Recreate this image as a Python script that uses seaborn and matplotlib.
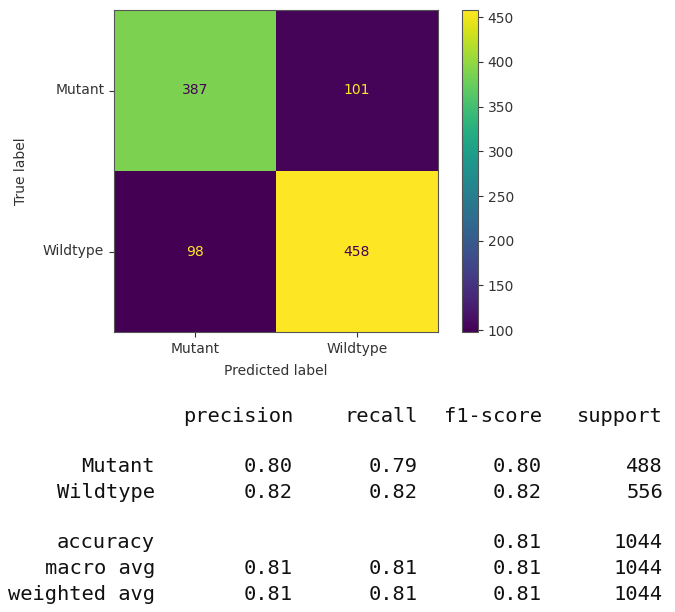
import matplotlib
matplotlib.use("Agg")
import matplotlib.pyplot as plt
import pandas as pd
import seaborn as sns

# Confusion matrix counts (rows: true label, columns: predicted label)
class_names = ["Mutant", "Wildtype"]
confusion = [[387, 101],
             [98, 458]]

# Classification report
report_rows = ["Mutant", "Wildtype", "accuracy", "macro avg", "weighted avg"]
report_cols = ["precision", "recall", "f1-score", "support"]
precision = [0.80, 0.82, None, 0.81, 0.81]
recall = [0.79, 0.82, None, 0.81, 0.81]
f1_score = [0.80, 0.82, 0.81, 0.81, 0.81]
support = [488, 556, 1044, 1044, 1044]

W, H = 675, 612
fig = plt.figure(figsize=(W / 100, H / 100), dpi=100)


def box(x0, y0, x1, y1):
    return [x0 / W, 1 - y1 / H, (x1 - x0) / W, (y1 - y0) / H]


ax = fig.add_axes(box(114, 10, 438, 332))
cax = fig.add_axes(box(462, 10, 478, 332))

cm = pd.DataFrame(confusion, index=class_names, columns=class_names)
vmin, vmax = cm.values.min(), cm.values.max()
sns.heatmap(cm, ax=ax, cbar_ax=cax, cmap="viridis", vmin=vmin, vmax=vmax,
            annot=True, fmt="d", annot_kws={"fontsize": 10})

# Text colour flips between the ends of the colormap around the midpoint
cmap = plt.get_cmap("viridis")
thresh = (vmin + vmax) / 2
for t in ax.texts:
    v = int(t.get_text())
    t.set_color(cmap(1.0) if v < thresh else cmap(0.0))

for s in ax.spines.values():
    s.set_visible(True)
    s.set_linewidth(0.8)
    s.set_color("#555555")

cbar = ax.collections[0].colorbar
cbar.outline.set_linewidth(0.8)
cbar.outline.set_edgecolor("#555555")
cbar.set_ticks(list(range(100, 451, 50)))
cax.tick_params(labelsize=10, colors="#333333", length=3.5)

ax.tick_params(labelsize=10, colors="#333333", length=3.5)
plt.setp(ax.get_yticklabels(), rotation=0)
plt.setp(ax.get_xticklabels(), rotation=0)
ax.set_xlabel("Predicted label", fontsize=10, color="#333333", labelpad=6)
ax.set_ylabel("True label", fontsize=10, color="#333333", labelpad=11)

# Classification report as monospaced text
mono = dict(family="DejaVu Sans Mono", fontsize=14.7, color="#111111",
            ha="right", va="center")
col_x = [293, 418, 542, 663]
label_x = 155
header_y = 417
row_y = [467, 492, 543, 568, 594]

for name, x in zip(report_cols, col_x):
    fig.text(x / W, 1 - header_y / H, name, **mono)

columns = [precision, recall, f1_score]
for i, (name, y) in enumerate(zip(report_rows, row_y)):
    fig.text(label_x / W, 1 - y / H, name, **mono)
    for vals, x in zip(columns, col_x[:3]):
        if vals[i] is not None:
            fig.text(x / W, 1 - y / H, f"{vals[i]:.2f}", **mono)
    fig.text(col_x[3] / W, 1 - y / H, f"{support[i]}", **mono)

fig.savefig("out.png", dpi=100)
